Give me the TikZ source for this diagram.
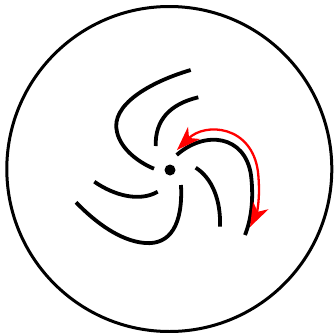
\documentclass[tikz,border=0pt]{standalone}
\usetikzlibrary{arrows.meta}
\begin{document}
\begin{tikzpicture}[x=1bp,y=-1bp,
  blade/.style={line width=3.8bp, line cap=butt, black},
  redtip/.tip={Stealth[length=24bp,width=17bp,inset=7bp]},
  redarrow/.style={line width=2.3bp, red, redtip-redtip}]
\useasboundingbox (0,0) rectangle (335,333);
\draw[line width=3bp] (169.3,169) circle[radius=162.5];
\fill (170,170) circle[radius=5.5];
% upper pair
\draw[blade] (190.7,70) .. controls (150,82) and (110,105) .. (117,132) .. controls (121,150) and (140,163) .. (154,168.7);
\draw[blade] (198.3,97.3) .. controls (170,104) and (155,120) .. (155.7,146);
% right pair
\draw[blade] (176.7,155) .. controls (205,130) and (245,135) .. (251,175) .. controls (254,200) and (251,220) .. (245,235);
\draw[blade] (195.7,167.7) .. controls (212,178) and (221,200) .. (220,226.7);
% lower pair
\draw[blade] (181,185) .. controls (183,225) and (170,245) .. (145,243) .. controls (120,241) and (95,222) .. (76,202.3);
\draw[blade] (94.3,181.7) .. controls (115,196) and (140,202) .. (157.7,191.7);
% red double arrow
\draw[redarrow] (177,150) .. controls (205,122) and (252,125) .. (258,172) .. controls (261,200) and (256,215) .. (250,227);
\end{tikzpicture}
\end{document}
